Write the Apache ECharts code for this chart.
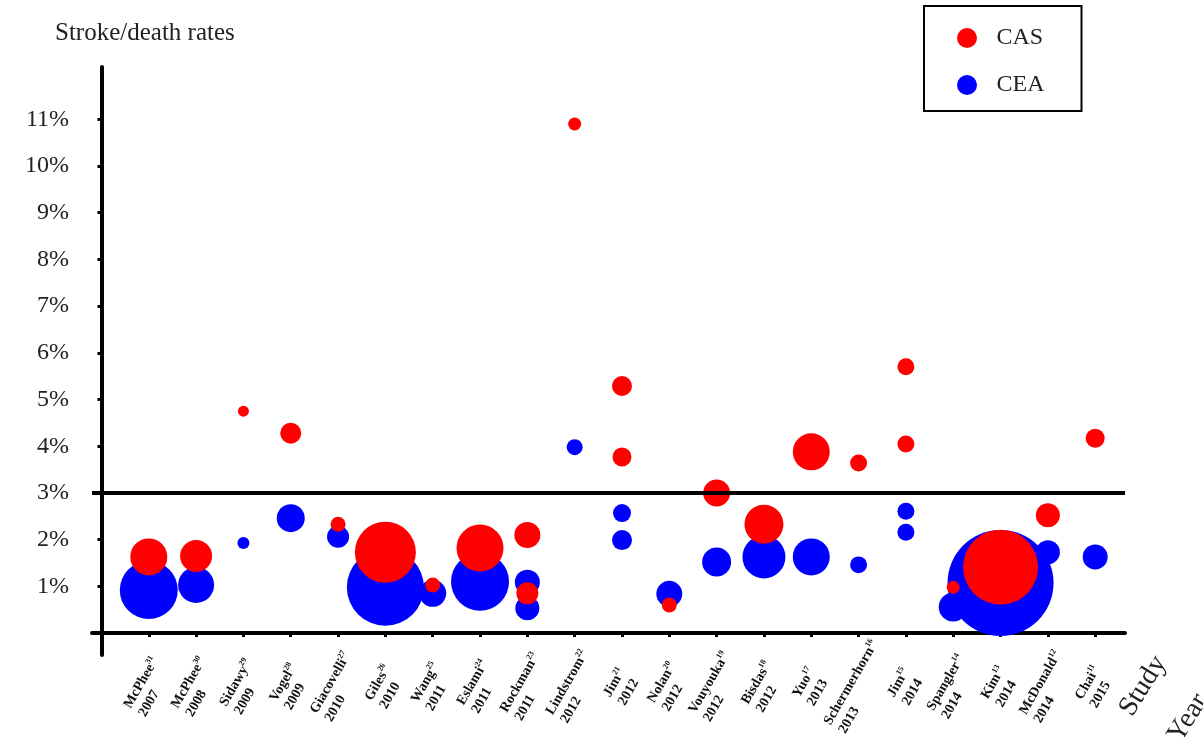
<!DOCTYPE html>
<html>
<head>
<meta charset="utf-8">
<script src="https://cdn.jsdelivr.net/npm/echarts@6/dist/echarts.min.js"></script>
<style>
html,body{margin:0;padding:0;background:#fff;}
#chart{width:1203px;height:737px;}
</style>
</head>
<body>
<div id="chart"></div>
<script>
// ---- data ----
const studies = ['McPhee','McPhee','Sidawy','Vogel','Giacovelli','Giles','Wang','Eslami','Rockman','Lindstrom','Jim','Nolan','Vouyouka','Bisdas','Yuo','Schermerhorn','Jim','Spangler','Kim','McDonald','Chai'];
const refs = ['31','30','29','28','27','26','25','24','23','22','21','20','19','18','17','16','15','14','13','12','11'];
const years = ['2007','2008','2009','2009','2010','2010','2011','2011','2011','2012','2012','2012','2012','2012','2013','2013','2014','2014','2014','2014','2015'];
const yTickValues = [1,2,3,4,5,6,7,8,9,10,11];
const threshold = 3;

// [study number, stroke/death rate %, relative sample weight]
const casPoints = [
  [1,1.63,342],[2,1.65,256],[3,4.75,30],[4,4.28,110],[5,2.33,56],[6,1.73,930],[7,1.03,56],
  [8,1.82,552],[9,2.10,169],[9,0.85,121],[10,10.9,42],[11,5.29,100],[11,3.77,90],[12,0.60,56],
  [13,3.00,182],[14,2.33,380],[15,3.88,342],[16,3.64,72],[17,5.70,72],[17,4.05,72],[18,0.98,42],
  [19,1.41,1406],[20,2.52,144],[21,4.17,90]
];
const ceaPoints = [
  [1,0.92,841],[2,1.03,324],[3,1.93,36],[4,2.46,196],[5,2.06,121],[6,0.98,1482],[7,0.85,182],
  [8,1.10,841],[9,1.09,156],[9,0.53,144],[10,3.98,64],[11,2.57,81],[11,1.99,100],[12,0.84,169],
  [13,1.52,210],[14,1.63,462],[15,1.63,342],[16,1.46,72],[17,2.61,72],[17,2.16,72],[18,0.56,210],
  [19,1.07,2809],[20,1.73,144],[21,1.63,156]
];
// significance notes [study number, rate %, text]
const notes = [[9,1.26,'#'],[11,2.23,'#'],[14,2.29,'##'],[17,2.23,'##']];

const xTickValues = studies.map((s,i)=>i+1);
const serif = '"Liberation Serif","Times New Roman",serif';

const chart = echarts.init(document.getElementById('chart'), null, {renderer:'canvas'});
const bubbleSize = d => 2*Math.sqrt(d[2]);

const option = {
  animation:false,
  backgroundColor:'#fff',
  grid:{left:92,right:78,top:67,bottom:82,containLabel:false,outerBoundsMode:'none'},
  legend:{
    data:['CAS','CEA'], orient:'vertical', left:924, top:6,
    padding:[20,37,14,33], itemGap:23, itemWidth:49, itemHeight:20, icon:'circle',
    borderColor:'#000', borderWidth:2,
    textStyle:{fontFamily:serif, fontSize:24, color:'#222'}
  },
  xAxis:{
    type:'value', min:-0.2, max:21.63,
    axisLine:{onZero:true, lineStyle:{color:'#000', width:4}},
    axisTick:{customValues:xTickValues, length:4, lineStyle:{color:'#000', width:3}},
    axisLabel:{
      customValues:xTickValues, rotate:60, align:'center', verticalAlign:'middle', margin:32,
      formatter:(v)=>{const i=Math.round(v)-1; if(i<0||i>=studies.length) return ''; return '{n|'+studies[i]+'}{s|'+refs[i]+'}\n{n|'+years[i]+'}';},
      rich:{
        n:{fontFamily:serif, fontWeight:'bold', fontSize:14, lineHeight:17, color:'#111', align:'left'},
        s:{fontFamily:serif, fontWeight:'bold', fontSize:8, lineHeight:9, verticalAlign:'top', color:'#111', align:'left'}
      }
    },
    splitLine:{show:false}
  },
  yAxis:{
    type:'value', min:-0.47, max:12.12,
    axisLine:{onZero:true, lineStyle:{color:'#000', width:4}},
    axisTick:{customValues:yTickValues, length:4, lineStyle:{color:'#000', width:3}},
    axisLabel:{customValues:yTickValues, formatter:v=>v+'%', margin:23, fontFamily:serif, fontSize:24, color:'#222'},
    splitLine:{show:false}
  },
  graphic:[
    {type:'text', left:55, top:21, style:{text:'Stroke/death rates', font:'25px '+serif, fill:'#222'}},
    {type:'text', x:1143, y:686, rotation:58*Math.PI/180, style:{text:'Study', font:'28px '+serif, fill:'#222', align:'center', verticalAlign:'middle'}},
    {type:'text', x:1188, y:718, rotation:58*Math.PI/180, style:{text:'Year', font:'28px '+serif, fill:'#222', align:'center', verticalAlign:'middle'}}
  ],
  series:[
    {
      name:'CEA', type:'scatter', data:ceaPoints, symbol:'circle', symbolSize:bubbleSize,
      itemStyle:{color:'#0000ff', opacity:1}, clip:false,
      markLine:{silent:true, symbol:['none','none'], label:{show:false},
        lineStyle:{color:'#000', width:4, type:'solid'}, data:[{yAxis:threshold}]}
    },
    {
      name:'CAS', type:'scatter', data:casPoints, symbol:'circle', symbolSize:bubbleSize,
      itemStyle:{color:'#ff0000', opacity:1}, clip:false
    },
    {
      name:'notes', type:'scatter', silent:true, symbolSize:1, itemStyle:{opacity:0},
      data:notes.map(n=>({value:[n[0],n[1]], name:n[2]})),
      label:{show:true, formatter:'{b}', position:'inside', offset:[22,0], color:'#888', fontFamily:serif, fontSize:16}
    }
  ]
};
chart.setOption(option);
</script>
</body>
</html>
